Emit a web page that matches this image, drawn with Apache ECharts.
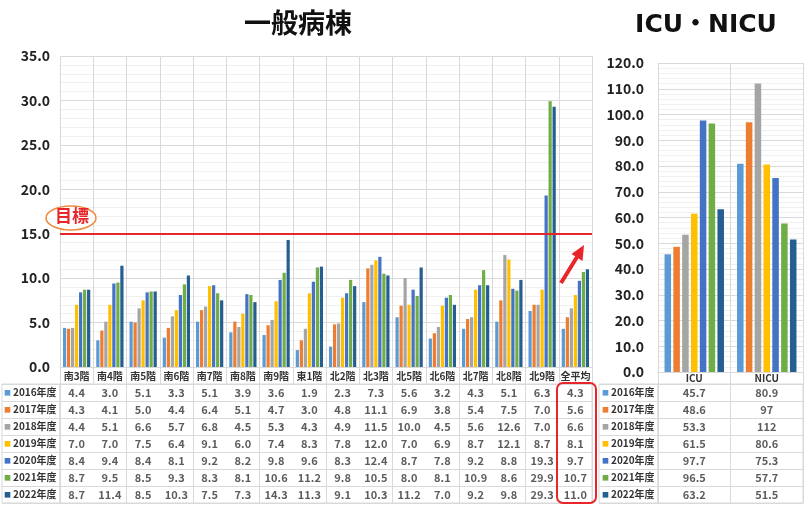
<!DOCTYPE html>
<html>
<head>
<meta charset="utf-8">
<script src="https://cdn.jsdelivr.net/npm/echarts@6/dist/echarts.min.js"></script>
<style>
  html, body { margin: 0; padding: 0; background: #fff; }
  #main { width: 805px; height: 505px; }
</style>
</head>
<body>
<div id="main"></div>
<script>
// 病棟
var wards = ['南3階', '南4階', '南5階', '南6階', '南7階', '南8階', '南9階', '東1階',
  '北2階', '北3階', '北5階', '北6階', '北7階', '北8階', '北9階', '全平均'];
var years = ['2016年度', '2017年度', '2018年度', '2019年度', '2020年度', '2021年度', '2022年度'];
var colors = ['#5b9bd5', '#ed7d31', '#a5a5a5', '#ffc000', '#4472c4', '#70ad47', '#255e91'];

// 一般病棟の値（年度ごと）
var ward2016 = [4.4, 3.0, 5.1, 3.3, 5.1, 3.9, 3.6, 1.9, 2.3, 7.3, 5.6, 3.2, 4.3, 5.1, 6.3, 4.3];
var ward2017 = [4.3, 4.1, 5.0, 4.4, 6.4, 5.1, 4.7, 3.0, 4.8, 11.1, 6.9, 3.8, 5.4, 7.5, 7.0, 5.6];
var ward2018 = [4.4, 5.1, 6.6, 5.7, 6.8, 4.5, 5.3, 4.3, 4.9, 11.5, 10.0, 4.5, 5.6, 12.6, 7.0, 6.6];
var ward2019 = [7.0, 7.0, 7.5, 6.4, 9.1, 6.0, 7.4, 8.3, 7.8, 12.0, 7.0, 6.9, 8.7, 12.1, 8.7, 8.1];
var ward2020 = [8.4, 9.4, 8.4, 8.1, 9.2, 8.2, 9.8, 9.6, 8.3, 12.4, 8.7, 7.8, 9.2, 8.8, 19.3, 9.7];
var ward2021 = [8.7, 9.5, 8.5, 9.3, 8.3, 8.1, 10.6, 11.2, 9.8, 10.5, 8.0, 8.1, 10.9, 8.6, 29.9, 10.7];
var ward2022 = [8.7, 11.4, 8.5, 10.3, 7.5, 7.3, 14.3, 11.3, 9.1, 10.3, 11.2, 7.0, 9.2, 9.8, 29.3, 11.0];

// ICU・NICU
var units = ['ICU', 'NICU'];
var icu2016 = [45.7, 80.9];
var icu2017 = [48.6, 97];
var icu2018 = [53.3, 112];
var icu2019 = [61.5, 80.6];
var icu2020 = [97.7, 75.3];
var icu2021 = [96.5, 57.7];
var icu2022 = [63.2, 51.5];

var targetValue = 15;

var wardRows = [ward2016, ward2017, ward2018, ward2019, ward2020, ward2021, ward2022];
var icuRows = [icu2016, icu2017, icu2018, icu2019, icu2020, icu2021, icu2022];

var FONT = 'Noto Sans CJK JP';
var gridColor = '#d9d9d9';
var minorColor = '#f0f0f0';

var chart = echarts.init(document.getElementById('main'));

// 凡例ラベル（色付き■）
var legendRich = { t: { fontSize: 10, fontWeight: 'bold', color: '#333', fontFamily: FONT, padding: [0, 0, 0, 2] } };
for (var i = 0; i < colors.length; i++) {
  legendRich['m' + i] = { fontSize: 7, color: colors[i], fontFamily: FONT };
}

var series = [];
// 棒グラフ
for (var i = 0; i < years.length; i++) {
  var s = {
    name: years[i],
    type: 'bar',
    xAxisIndex: 0,
    yAxisIndex: 0,
    data: wardRows[i],
    itemStyle: { color: colors[i] },
    barCategoryGap: '18%',
    barGap: '25%'
  };
  if (i == 0) {
    s.markLine = {
      silent: true,
      symbol: 'none',
      data: [{ yAxis: targetValue }],
      lineStyle: { color: '#e8262a', width: 2, type: 'solid' },
      label: { show: false }
    };
  }
  series.push(s);
  series.push({
    name: years[i],
    type: 'bar',
    xAxisIndex: 1,
    yAxisIndex: 1,
    data: icuRows[i],
    itemStyle: { color: colors[i] },
    barCategoryGap: '18%',
    barGap: '35%'
  });
}

// データテーブルの数値
var cellLabel = {
  show: true,
  position: 'inside',
  color: '#333',
  fontSize: 11,
  fontWeight: 'bold',
  fontFamily: FONT
};
var wardCells = [];
var icuCells = [];
for (var r = 0; r < years.length; r++) {
  for (var c = 0; c < wards.length; c++) {
    wardCells.push([c, r, wardRows[r][c].toFixed(1)]);
  }
  for (var c = 0; c < units.length; c++) {
    icuCells.push([c, r, String(icuRows[r][c])]);
  }
}
series.push({
  type: 'scatter',
  xAxisIndex: 2,
  yAxisIndex: 2,
  symbolSize: 0.1,
  itemStyle: { color: 'transparent' },
  silent: true,
  data: wardCells,
  label: Object.assign({ formatter: function (p) { return p.value[2]; } }, cellLabel)
});
series.push({
  type: 'scatter',
  xAxisIndex: 4,
  yAxisIndex: 4,
  symbolSize: 0.1,
  itemStyle: { color: 'transparent' },
  silent: true,
  data: icuCells,
  label: Object.assign({ formatter: function (p) { return p.value[2]; } }, cellLabel)
});

var yLabel = { color: '#222', fontSize: 14, fontWeight: 'bold', fontFamily: FONT };
var catLabel = { color: '#333', fontSize: 10, fontWeight: 'bold', fontFamily: FONT };

var option = {
  animation: false,
  backgroundColor: '#fff',
  title: [{
    text: '一般病棟',
    left: 293,
    top: 4,
    textAlign: 'center',
    textStyle: { fontSize: 27, fontWeight: 'bold', color: '#111', fontFamily: FONT }
  }, {
    text: 'ICU・NICU',
    left: 701,
    top: 8,
    textAlign: 'center',
    textStyle: { fontSize: 25, fontWeight: 'bold', color: '#111', fontFamily: '"DejaVu Sans", "Noto Sans CJK JP"' }
  }],
  grid: [
    { left: 60, top: 56, width: 532, height: 311 },
    { left: 658, top: 63, width: 145, height: 309 },
    { left: 60, top: 384, width: 532, height: 119, show: true, borderColor: gridColor, borderWidth: 1 },
    { left: 2, top: 384, width: 58, height: 119, show: true, borderColor: gridColor, borderWidth: 1 },
    { left: 658, top: 384, width: 145, height: 119, show: true, borderColor: gridColor, borderWidth: 1 },
    { left: 599, top: 384, width: 59, height: 119, show: true, borderColor: gridColor, borderWidth: 1 }
  ],
  xAxis: [
    {
      gridIndex: 0, type: 'category', data: wards,
      axisLine: { lineStyle: { color: gridColor } },
      axisTick: { show: true, length: 17, lineStyle: { color: gridColor } },
      axisLabel: Object.assign({ margin: 4, interval: 0 }, catLabel),
      splitLine: { show: true, lineStyle: { color: gridColor } }
    },
    {
      gridIndex: 1, type: 'category', data: units,
      axisLine: { lineStyle: { color: gridColor } },
      axisTick: { show: true, length: 12, lineStyle: { color: gridColor } },
      axisLabel: Object.assign({ margin: 1, interval: 0 }, catLabel),
      splitLine: { show: true, lineStyle: { color: gridColor } }
    },
    {
      gridIndex: 2, type: 'category', data: wards,
      axisLine: { show: false }, axisTick: { show: false }, axisLabel: { show: false },
      splitLine: { show: true, lineStyle: { color: gridColor } }
    },
    { gridIndex: 3, type: 'value', show: false },
    {
      gridIndex: 4, type: 'category', data: units,
      axisLine: { show: false }, axisTick: { show: false }, axisLabel: { show: false },
      splitLine: { show: true, lineStyle: { color: gridColor } }
    },
    { gridIndex: 5, type: 'value', show: false }
  ],
  yAxis: [
    {
      gridIndex: 0, type: 'value', min: 0, max: 35, interval: 5,
      axisLine: { show: false }, axisTick: { show: false },
      axisLabel: Object.assign({ margin: 10, formatter: function (v) { return v.toFixed(1); } }, yLabel),
      splitLine: { lineStyle: { color: gridColor } },
      minorTick: { show: false, splitNumber: 5 },
      minorSplitLine: { show: true, lineStyle: { color: minorColor } }
    },
    {
      gridIndex: 1, type: 'value', min: 0, max: 120, interval: 10,
      axisLine: { show: false }, axisTick: { show: false },
      axisLabel: Object.assign({ margin: 14, formatter: function (v) { return v.toFixed(1); } }, yLabel),
      splitLine: { lineStyle: { color: gridColor } },
      minorTick: { show: false, splitNumber: 5 },
      minorSplitLine: { show: true, lineStyle: { color: minorColor } }
    },
    {
      gridIndex: 2, type: 'category', data: years, inverse: true,
      axisLine: { show: false }, axisTick: { show: false },
      axisLabel: {
        margin: 56, align: 'left',
        formatter: function (v, i) { return '{m' + i + '|■}{t|' + v + '}'; },
        rich: legendRich
      },
      splitLine: { show: true, lineStyle: { color: gridColor } }
    },
    {
      gridIndex: 3, type: 'category', data: years, inverse: true,
      axisLine: { show: false }, axisTick: { show: false }, axisLabel: { show: false },
      splitLine: { show: true, lineStyle: { color: gridColor } }
    },
    {
      gridIndex: 4, type: 'category', data: years, inverse: true,
      axisLine: { show: false }, axisTick: { show: false },
      axisLabel: {
        margin: 56, align: 'left',
        formatter: function (v, i) { return '{m' + i + '|■}{t|' + v + '}'; },
        rich: legendRich
      },
      splitLine: { show: true, lineStyle: { color: gridColor } }
    },
    {
      gridIndex: 5, type: 'category', data: years, inverse: true,
      axisLine: { show: false }, axisTick: { show: false }, axisLabel: { show: false },
      splitLine: { show: true, lineStyle: { color: gridColor } }
    }
  ],
  graphic: [
    // 目標ラベル
    {
      type: 'ellipse', shape: { cx: 71, cy: 218, rx: 25, ry: 12 },
      style: { fill: '#fff', stroke: '#f08a3c', lineWidth: 1.5 }, z: 10
    },
    {
      type: 'text', left: 55, top: 207, z: 11,
      style: { text: '目標', fill: '#e8262a', font: 'bold 17px "Noto Sans CJK JP"' }
    },
    // 矢印
    {
      type: 'line', shape: { x1: 561, y1: 283, x2: 577, y2: 257 },
      style: { stroke: '#e8262a', lineWidth: 4 }, z: 10
    },
    {
      type: 'polygon', shape: { points: [[584, 245], [582.5, 261], [571.5, 254]] },
      style: { fill: '#e8262a' }, z: 10
    },
    // 全平均の枠
    {
      type: 'rect', shape: { x: 557, y: 383, width: 39, height: 120, r: 6 },
      style: { fill: 'none', stroke: '#e8262a', lineWidth: 2 }, z: 10
    }
  ],
  series: series
};

chart.setOption(option);
</script>
</body>
</html>
